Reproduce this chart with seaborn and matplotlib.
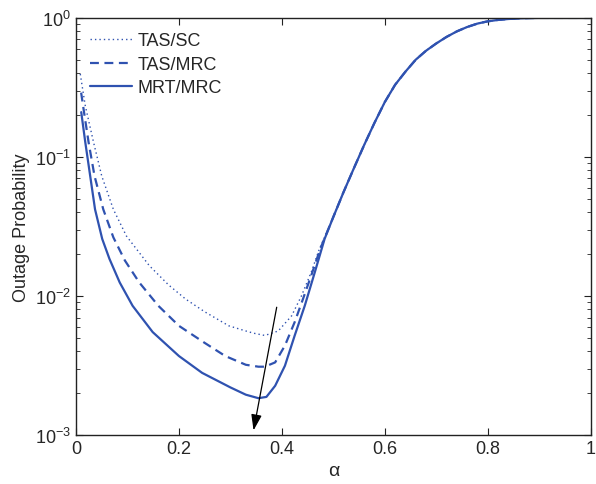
import numpy as np
import pandas as pd
import matplotlib
matplotlib.use('Agg')
import matplotlib.pyplot as plt
import seaborn as sns

# values (alpha, outage probability)
# shared right-hand part where the three curves coincide
tail_x = [0.50, 0.52, 0.54, 0.56, 0.58, 0.60, 0.62, 0.64, 0.66, 0.68, 0.70, 0.72, 0.74,
          0.76, 0.78, 0.80, 0.82, 0.84, 0.86, 0.88, 0.90, 0.95, 1.00]
tail_y = [0.037, 0.056, 0.083, 0.122, 0.176, 0.248, 0.33, 0.41, 0.50, 0.58, 0.655, 0.73, 0.80,
          0.86, 0.91, 0.945, 0.967, 0.982, 0.992, 0.997, 1.0, 1.0, 1.0]

sc_x = [0.0083, 0.018, 0.034, 0.050, 0.0726, 0.098, 0.1426, 0.18, 0.213, 0.25, 0.297, 0.33,
        0.345, 0.367, 0.393, 0.419, 0.438, 0.457, 0.473]
sc_y = [0.395, 0.234, 0.128, 0.073, 0.042, 0.027, 0.0165, 0.012, 0.0095, 0.0077, 0.0061, 0.0056,
        0.0054, 0.0052, 0.0056, 0.0072, 0.010, 0.0148, 0.0218]

mrc_x = [0.010, 0.0148, 0.0244, 0.036, 0.053, 0.0726, 0.095, 0.123, 0.16, 0.20, 0.25, 0.29,
         0.33, 0.3545, 0.367, 0.387, 0.406, 0.425, 0.441, 0.457, 0.475]
mrc_y = [0.29, 0.22, 0.128, 0.073, 0.042, 0.0264, 0.018, 0.0125, 0.0085, 0.0061, 0.0046, 0.0037,
         0.0032, 0.0031, 0.0031, 0.00333, 0.0044, 0.0065, 0.0095, 0.014, 0.022]

mrt_x = [0.0102, 0.018, 0.0276, 0.037, 0.051, 0.065, 0.085, 0.11, 0.149, 0.20, 0.245, 0.30,
         0.33, 0.3545, 0.37, 0.387, 0.406, 0.425, 0.4445, 0.464, 0.483]
mrt_y = [0.21, 0.128, 0.073, 0.042, 0.0257, 0.0185, 0.0125, 0.0085, 0.0055, 0.0037, 0.0028, 0.0022,
         0.00195, 0.00184, 0.00188, 0.00226, 0.00315, 0.0052, 0.0085, 0.0148, 0.0257]

labels = ['TAS/SC', 'TAS/MRC', 'MRT/MRC']

sns.set_style('ticks')
plt.rcParams['font.family'] = ['Liberation Sans', 'DejaVu Sans']
plt.rcParams['mathtext.default'] = 'regular'
plt.rcParams['xtick.direction'] = 'in'
plt.rcParams['ytick.direction'] = 'in'

color = '#2f52b0'

fig = plt.figure(figsize=(5.96, 4.85), dpi=100)
ax = fig.add_axes([0.1275, 0.101, 0.8635, 0.86])

styles = [((1, 2.2), 1.0), ((4, 2.5), 1.6), ('', 1.6)]
for lab, xs, ys, (dash, lw) in zip(labels, [sc_x, mrc_x, mrt_x], [sc_y, mrc_y, mrt_y], styles):
    df = pd.DataFrame({'alpha': xs + tail_x, 'p': ys + tail_y})
    line_kw = dict(color=color, linewidth=lw, label=lab, sort=False, estimator=None)
    sns.lineplot(data=df, x='alpha', y='p', ax=ax, **line_kw)
    if dash:
        ax.lines[-1].set_dashes(dash)

ax.set_yscale('log')
ax.set_xlim(0, 1)
ax.set_ylim(1e-3, 1)
ax.set_xticks([0, 0.2, 0.4, 0.6, 0.8, 1])
ax.set_xticklabels(['0', '0.2', '0.4', '0.6', '0.8', '1'])
ax.tick_params(which='both', top=True, right=True, labelsize=13, color='#222222')
ax.tick_params(which='major', length=5)
ax.tick_params(which='minor', length=3)
for s in ax.spines.values():
    s.set_color('#222222')
    s.set_linewidth(1.0)

ax.set_xlabel('α', fontsize=14)
ax.set_ylabel('Outage Probability', fontsize=13)

ax.annotate('', xy=(0.345, 1.08e-3), xytext=(0.39, 8.3e-3),
            arrowprops=dict(arrowstyle='-|>,head_length=0.6,head_width=0.2',
                            color='black', lw=0.9, mutation_scale=16,
                            shrinkA=0, shrinkB=0))

leg = ax.legend(loc='upper left', frameon=False, fontsize=13, handlelength=2.3,
                handletextpad=0.3, labelspacing=0.36, borderaxespad=0.4)

fig.savefig('out.png', dpi=100)
